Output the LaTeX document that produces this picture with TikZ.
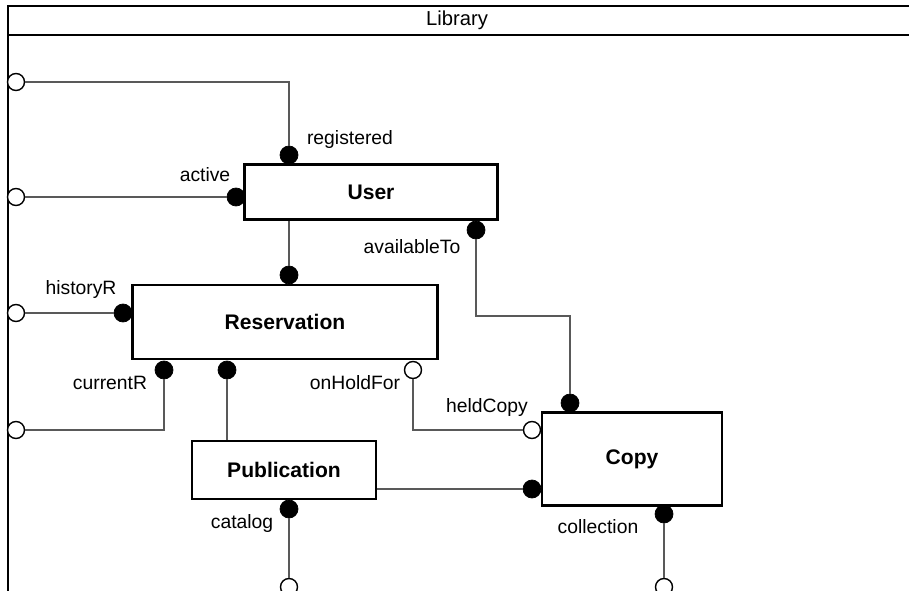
\documentclass[tikz,border=0pt]{standalone}
\usepackage{fontspec}
\setmainfont{Liberation Sans}
\tikzset{
  cls/.style={draw, line width=1.2pt, fill=white, font=\fontsize{12}{14}\selectfont\bfseries},
  portF/.style={circle, fill=black, draw=black, inner sep=0pt, minimum size=0.36cm},
  portO/.style={circle, fill=white, draw=black, line width=0.8pt, inner sep=0pt, minimum size=0.34cm},
  role/.style={font=\fontsize{11}{13}\selectfont},
  link/.style={draw=black!65, line width=0.7pt}
}
\begin{document}
\begin{tikzpicture}[x=0.02cm, y=-0.02cm]
  \useasboundingbox (0,0) rectangle (909,591);

  % Frame
  \draw[line width=1.2pt] (8,640) -- (8,6) -- (930,6);
  \draw[line width=1.2pt] (8,35) -- (930,35);
  \node (lib) at (457,20) {\fontsize{11.5}{13}\selectfont Library};

  % Classes
  \node[cls, minimum width=5.06cm, minimum height=1.1cm] (user) at (371,192) {User};
  \node[cls, minimum width=6.1cm, minimum height=1.48cm] (res) at (285,322) {Reservation};
  \node[cls, minimum width=3.68cm, minimum height=1.16cm] (pub) at (284,470) {Publication};
  \node[cls, minimum width=3.6cm, minimum height=1.86cm] (copy) at (632,459) {Copy};

  % Open ports on the frame
  \foreach \n/\y in {b1/82, b2/197, b3/313, b4/430}
  {\node[portO] (\n) at (16,\y) {};}
  \node[portO] (e1) at (289,587) {};
  \node[portO] (e2) at (664,587) {};

  % Ports on the classes
  \node[portF] (reg) at (289,155) {};
  \node[portF] (act) at (236,197) {};
  \node[portF] (avail) at (476,230) {};
  \node[portF] (resTop) at (289,275) {};
  \node[portF] (hist) at (123,313) {};
  \node[portF] (cur) at (164,370) {};
  \node[portF] (resPub) at (227,370) {};
  \node[portO] (hold) at (413,370) {};
  \node[portO] (held) at (532,430) {};
  \node[portF] (copyTop) at (570,403) {};
  \node[portF] (copyPub) at (532,489) {};
  \node[portF] (cat) at (289,509) {};
  \node[portF] (coll) at (664,514) {};
  \coordinate (availBend) at (476,316);

  % Role names
  \node[role] (regL) at (350,140) {registered};
  \node[role] (actL) at (205,175) {active};
  \node[role] (availL) at (412,247) {availableTo};
  \node[role] (histL) at (81,290) {historyR};
  \node[role] (curL) at (110,383) {currentR};
  \node[role] (holdL) at (355,383) {onHoldFor};
  \node[role] (heldL) at (487,408) {heldCopy};
  \node[role] (catL) at (242,523) {catalog};
  \node[role] (collL) at (598,527) {collection};

  % Links
  \draw[link] (b1) -| (reg);
  \draw[link] (b2) -- (act);
  \draw[link] (resTop) -- (resTop |- user.south);
  \draw[link] (b3) -- (hist);
  \draw[link] (cur) |- (b4);
  \draw[link] (resPub) -- (resPub |- pub.north);
  \draw[link] (hold) |- (held);
  \draw[link] (avail) -- (availBend) -| (copyTop);
  \draw[link] (copyPub) -- (copyPub -| pub.east);
  \draw[link] (cat) -- (e1);
  \draw[link] (coll) -- (e2);
\end{tikzpicture}
\end{document}
